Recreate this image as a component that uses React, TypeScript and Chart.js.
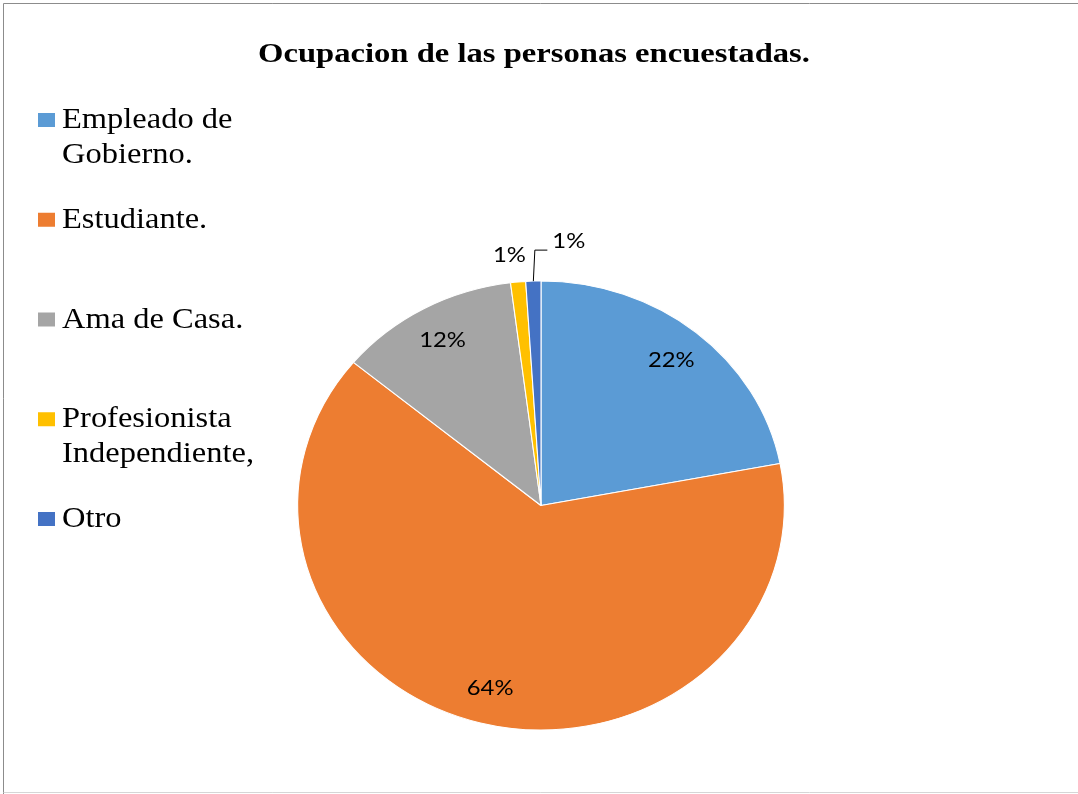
import React, { useEffect, useRef } from 'react';
import { Chart, registerables } from 'chart.js';

Chart.register(...registerables);

// ---- data ----
const title = 'Ocupacion de las personas encuestadas.';
const legendLines: string[][] = [
  ['Empleado de', 'Gobierno.'],
  ['Estudiante.'],
  ['Ama de Casa.'],
  ['Profesionista', 'Independiente,'],
  ['Otro'],
];
const categories = legendLines.map((l) => l.join(' '));
const values = [22, 64, 12, 1, 1];
const colors = ['#5B9BD5', '#ED7D31', '#A5A5A5', '#FFC000', '#4472C4'];
const labelPlacement = ['inside', 'inside', 'inside', 'outside', 'leader'];

// ---- style ----
const PIE_SX = 1.084; // horizontal stretch of the pie (reference is an ellipse)
const TITLE_SX = 1.165;
const LEGEND_SX = 1.12;
const SERIF = '"Liberation Serif", "Times New Roman", serif';
const SANS = 'Lato, "Open Sans", sans-serif';

function drawText(
  ctx: CanvasRenderingContext2D,
  text: string,
  x: number,
  y: number,
  font: string,
  sx: number,
  align: CanvasTextAlign,
  baseline: CanvasTextBaseline = 'alphabetic',
  color = '#000'
) {
  ctx.save();
  ctx.font = font;
  ctx.fillStyle = color;
  ctx.textAlign = align;
  ctx.textBaseline = baseline;
  ctx.translate(x, y);
  ctx.scale(sx, 1);
  ctx.fillText(text, 0, 0);
  ctx.restore();
}

const backgroundPlugin = {
  id: 'bg',
  beforeDraw(chart: any) {
    const ctx = chart.ctx as CanvasRenderingContext2D;
    ctx.save();
    ctx.fillStyle = '#fff';
    ctx.fillRect(0, 0, chart.width, chart.height);
    ctx.lineWidth = 1;
    ctx.strokeStyle = '#8c8c8c';
    ctx.beginPath();
    ctx.moveTo(3.5, chart.height);
    ctx.lineTo(3.5, 3.5);
    ctx.lineTo(chart.width, 3.5);
    ctx.stroke();
    ctx.strokeStyle = '#d6d6d6';
    ctx.beginPath();
    ctx.moveTo(3.5, chart.height - 1.5);
    ctx.lineTo(chart.width, chart.height - 1.5);
    ctx.stroke();
    ctx.restore();
  },
};

const stretchPlugin = {
  id: 'stretch',
  beforeDatasetsDraw(chart: any) {
    const ctx = chart.ctx as CanvasRenderingContext2D;
    const a = chart.chartArea;
    const cx = (a.left + a.right) / 2;
    ctx.save();
    ctx.translate(cx, 0);
    ctx.scale(PIE_SX, 1);
    ctx.translate(-cx, 0);
  },
  afterDatasetsDraw(chart: any) {
    chart.ctx.restore();
  },
};

const decorPlugin = {
  id: 'decor',
  afterDraw(chart: any) {
    const ctx = chart.ctx as CanvasRenderingContext2D;

    // title
    drawText(ctx, title, 534, 62, `bold 28px ${SERIF}`, TITLE_SX, 'center');

    // legend
    const legendStart = 128;
    const itemStep = 99.75;
    const lineH = 35;
    legendLines.forEach((lines, i) => {
      const base = legendStart + i * itemStep;
      ctx.fillStyle = colors[i];
      ctx.fillRect(38, base - 15, 17, 14);
      lines.forEach((ln, j) => {
        drawText(ctx, ln, 62, base + j * lineH, `29px ${SERIF}`, LEGEND_SX, 'left');
      });
    });

    // data labels
    const meta = chart.getDatasetMeta(0);
    const total = values.reduce((s, v) => s + v, 0);
    const font = `22px ${SANS}`;
    meta.data.forEach((arc: any, i: number) => {
      const p = arc.getProps(['x', 'y', 'startAngle', 'endAngle', 'outerRadius'], true);
      const mid = (p.startAngle + p.endAngle) / 2;
      const R = p.outerRadius;
      const px = (r: number) => p.x + Math.cos(mid) * r * PIE_SX;
      const py = (r: number) => p.y + Math.sin(mid) * r;
      const txt = Math.round((values[i] / total) * 100) + '%';
      const mode = labelPlacement[i];
      if (mode === 'inside') {
        drawText(ctx, txt, px(0.84 * R), py(0.84 * R), font, PIE_SX, 'center', 'middle');
      } else if (mode === 'outside') {
        drawText(ctx, txt, px(1.12 * R) - 6, py(1.12 * R), font, PIE_SX, 'center', 'middle');
      } else {
        const x0 = px(R);
        const y0 = py(R);
        ctx.save();
        ctx.strokeStyle = '#000';
        ctx.lineWidth = 1;
        ctx.beginPath();
        ctx.moveTo(x0, y0);
        ctx.lineTo(x0 + 1.5, y0 - 31);
        ctx.lineTo(x0 + 14, y0 - 31);
        ctx.stroke();
        ctx.restore();
        drawText(ctx, txt, x0 + 19, y0 - 40, font, PIE_SX, 'left', 'middle');
      }
    });
  },
};

export default function App() {
  const ref = useRef<HTMLCanvasElement | null>(null);

  useEffect(() => {
    if (!ref.current) return;
    const chart = new Chart(ref.current, {
      type: 'pie',
      data: {
        labels: categories,
        datasets: [
          {
            data: values,
            backgroundColor: colors,
            borderColor: '#ffffff',
            borderWidth: 1,
            hoverOffset: 0,
            clip: false as any,
          },
        ],
      },
      options: {
        animation: false,
        responsive: true,
        maintainAspectRatio: false,
        events: [],
        layout: { padding: { top: 280, bottom: 63, left: 316, right: 312 } },
        plugins: {
          legend: { display: false },
          title: { display: false },
          tooltip: { enabled: false },
        },
      },
      plugins: [backgroundPlugin, stretchPlugin, decorPlugin],
    });
    return () => chart.destroy();
  }, []);

  return (
    <div style={{ position: 'fixed', left: 0, top: 0, width: 1078, height: 794, background: '#fff' }}>
      <canvas ref={ref} style={{ display: 'block' }} />
    </div>
  );
}
